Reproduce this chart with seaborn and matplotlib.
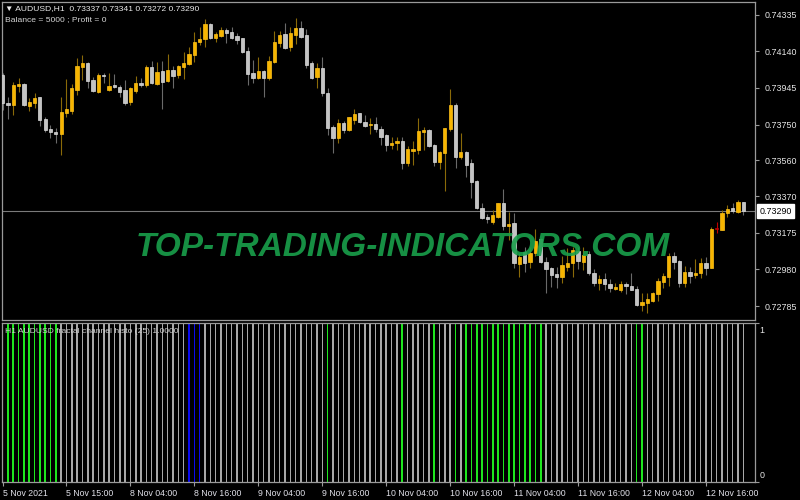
import numpy as np
import pandas as pd
import matplotlib
matplotlib.use("Agg")
import matplotlib.pyplot as plt
import matplotlib.transforms as mtransforms
import seaborn as sns

# AUDUSD H1, 140 bars
opens = [
    0.74014, 0.73867, 0.73854, 0.73955, 0.73965, 0.73849, 0.73867, 0.73895, 0.73780, 0.73727,
    0.73711, 0.73700, 0.73813, 0.73824, 0.73934, 0.74058, 0.74079, 0.73987, 0.73925, 0.74016,
    0.73934, 0.73959, 0.73952, 0.73934, 0.73869, 0.73930, 0.73973, 0.73959, 0.74058, 0.73966,
    0.74035, 0.73982, 0.74041, 0.74014, 0.74058, 0.74073, 0.74120, 0.74188, 0.74204, 0.74285,
    0.74209, 0.74223, 0.74253, 0.74241, 0.74221, 0.74209, 0.74143, 0.74026, 0.74000, 0.74035,
    0.73996, 0.74085, 0.74186, 0.74231, 0.74161, 0.74227, 0.74262, 0.74227, 0.74076, 0.74002,
    0.74050, 0.73920, 0.73736, 0.73680, 0.73760, 0.73721, 0.73775, 0.73810, 0.73766, 0.73746,
    0.73752, 0.73727, 0.73695, 0.73642, 0.73654, 0.73664, 0.73544, 0.73611, 0.73615, 0.73711,
    0.73721, 0.73642, 0.73553, 0.73601, 0.73725, 0.73854, 0.73579, 0.73606, 0.73544, 0.73452,
    0.73305, 0.73257, 0.73234, 0.73260, 0.73331, 0.73211, 0.73225, 0.73009, 0.73074, 0.73021,
    0.73065, 0.73140, 0.73021, 0.72986, 0.72955, 0.72941, 0.72994, 0.73014, 0.73080, 0.73021,
    0.73062, 0.72963, 0.72909, 0.72927, 0.72902, 0.72878, 0.72870, 0.72900, 0.72894, 0.72874,
    0.72790, 0.72803, 0.72813, 0.72849, 0.72914, 0.72941, 0.73053, 0.73026, 0.72909, 0.72968,
    0.72948, 0.72959, 0.73012, 0.72987, 0.73195, 0.73192, 0.73278, 0.73305, 0.73284, 0.73337,
]
highs = [
    0.74025, 0.73899, 0.73978, 0.73998, 0.73971, 0.73890, 0.73917, 0.73899, 0.73792, 0.73748,
    0.73730, 0.73899, 0.73991, 0.73966, 0.74103, 0.74120, 0.74085, 0.74005, 0.74026, 0.74026,
    0.74026, 0.74019, 0.73961, 0.73987, 0.73949, 0.74009, 0.73996, 0.74066, 0.74088, 0.74085,
    0.74090, 0.74126, 0.74062, 0.74067, 0.74138, 0.74165, 0.74241, 0.74271, 0.74310, 0.74292,
    0.74244, 0.74268, 0.74262, 0.74268, 0.74236, 0.74212, 0.74161, 0.74094, 0.74111, 0.74041,
    0.74115, 0.74250, 0.74250, 0.74292, 0.74268, 0.74316, 0.74301, 0.74257, 0.74090, 0.74076,
    0.74111, 0.73943, 0.73748, 0.73778, 0.73771, 0.73792, 0.73832, 0.73813, 0.73801, 0.73784,
    0.73789, 0.73743, 0.73700, 0.73686, 0.73683, 0.73686, 0.73638, 0.73664, 0.73784, 0.73739,
    0.73725, 0.73647, 0.73611, 0.73734, 0.73938, 0.73867, 0.73707, 0.73611, 0.73566, 0.73455,
    0.73335, 0.73273, 0.73296, 0.73335, 0.73406, 0.73287, 0.73281, 0.73065, 0.73101, 0.73101,
    0.73193, 0.73145, 0.73044, 0.72994, 0.72994, 0.73051, 0.73096, 0.73101, 0.73101, 0.73101,
    0.73078, 0.72980, 0.72950, 0.72961, 0.72927, 0.72907, 0.72918, 0.72914, 0.72959, 0.72891,
    0.72853, 0.72853, 0.72861, 0.72932, 0.72959, 0.73065, 0.73074, 0.73030, 0.72998, 0.72994,
    0.73034, 0.73039, 0.73047, 0.73207, 0.73232, 0.73298, 0.73320, 0.73333, 0.73347, 0.73341,
]
lows = [
    0.73828, 0.73778, 0.73801, 0.73925, 0.73849, 0.73822, 0.73837, 0.73743, 0.73712, 0.73677,
    0.73654, 0.73588, 0.73789, 0.73807, 0.73908, 0.73987, 0.73943, 0.73922, 0.73917, 0.73970,
    0.73930, 0.73943, 0.73899, 0.73854, 0.73854, 0.73920, 0.73949, 0.73952, 0.73966, 0.73961,
    0.73833, 0.73978, 0.73943, 0.73996, 0.73991, 0.74067, 0.74085, 0.74174, 0.74165, 0.74204,
    0.74191, 0.74218, 0.74183, 0.74204, 0.74179, 0.74129, 0.73961, 0.73973, 0.73991, 0.73899,
    0.73987, 0.74079, 0.74165, 0.74151, 0.74143, 0.74179, 0.74212, 0.74053, 0.73991, 0.73943,
    0.73904, 0.73695, 0.73597, 0.73654, 0.73704, 0.73718, 0.73753, 0.73757, 0.73736, 0.73700,
    0.73712, 0.73642, 0.73611, 0.73619, 0.73615, 0.73514, 0.73530, 0.73535, 0.73594, 0.73615,
    0.73629, 0.73530, 0.73512, 0.73397, 0.73718, 0.73518, 0.73566, 0.73473, 0.73361, 0.73300,
    0.73246, 0.73228, 0.73221, 0.73252, 0.73189, 0.73136, 0.72986, 0.72941, 0.72968, 0.72986,
    0.73051, 0.73012, 0.72856, 0.72885, 0.72879, 0.72909, 0.72971, 0.72937, 0.72980, 0.72977,
    0.72950, 0.72891, 0.72870, 0.72870, 0.72861, 0.72870, 0.72860, 0.72849, 0.72868, 0.72785,
    0.72760, 0.72748, 0.72808, 0.72812, 0.72881, 0.72891, 0.72980, 0.72888, 0.72888, 0.72909,
    0.72936, 0.72932, 0.72950, 0.72986, 0.73175, 0.73187, 0.73260, 0.73282, 0.73278, 0.73272,
]
closes = [
    0.73865, 0.73853, 0.73961, 0.73966, 0.73854, 0.73869, 0.73893, 0.73775, 0.73721, 0.73712,
    0.73700, 0.73819, 0.73832, 0.73943, 0.74063, 0.74079, 0.73982, 0.73929, 0.74014, 0.74007,
    0.73955, 0.73949, 0.73924, 0.73867, 0.73943, 0.73973, 0.73962, 0.74058, 0.73970, 0.74032,
    0.73978, 0.74041, 0.74009, 0.74063, 0.74079, 0.74126, 0.74191, 0.74206, 0.74285, 0.74209,
    0.74231, 0.74253, 0.74236, 0.74209, 0.74200, 0.74135, 0.74019, 0.74000, 0.74035, 0.74000,
    0.74088, 0.74191, 0.74227, 0.74159, 0.74236, 0.74262, 0.74218, 0.74067, 0.73996, 0.74050,
    0.73917, 0.73730, 0.73680, 0.73760, 0.73721, 0.73789, 0.73807, 0.73762, 0.73744, 0.73753,
    0.73725, 0.73686, 0.73642, 0.73654, 0.73664, 0.73544, 0.73619, 0.73620, 0.73716, 0.73721,
    0.73636, 0.73550, 0.73606, 0.73730, 0.73854, 0.73579, 0.73606, 0.73535, 0.73446, 0.73305,
    0.73252, 0.73246, 0.73269, 0.73331, 0.73211, 0.73221, 0.73012, 0.73047, 0.73012, 0.73069,
    0.73132, 0.73021, 0.72980, 0.72950, 0.72938, 0.73003, 0.73015, 0.73083, 0.73024, 0.73056,
    0.72959, 0.72909, 0.72929, 0.72901, 0.72879, 0.72889, 0.72902, 0.72894, 0.72873, 0.72792,
    0.72808, 0.72821, 0.72853, 0.72921, 0.72945, 0.73053, 0.73021, 0.72909, 0.72968, 0.72945,
    0.72963, 0.73012, 0.72987, 0.73197, 0.73195, 0.73281, 0.73303, 0.73288, 0.73338, 0.73290,
]

# histogram state per bar: G = green (up), S = silver (flat), B = blue (down)
histo_codes = (
    "GGGGGGGGGGGSSSSSSSSS"
    "SSSSSSSSSSSSSSSBBBSS"
    "SSSSSSSSSSSSSSSSSSSS"
    "SGSSSSSSSSSSSSSGSSSS"
    "SGSSSGSGGGGGGGGGGGGG"
    "GGSSSSSSSSSSSSSSSSSG"
    "GSSSSSSSSSSSSSSSSSSS"
)

price_ticks = [0.74335, 0.74140, 0.73945, 0.73750, 0.73560, 0.73370, 0.73175, 0.72980, 0.72785]
time_tick_bars = [0, 12, 24, 36, 48, 60, 72, 84, 96, 108, 120, 132]
time_labels = ["5 Nov 2021", "5 Nov 15:00", "8 Nov 04:00", "8 Nov 16:00", "9 Nov 04:00",
               "9 Nov 16:00", "10 Nov 04:00", "10 Nov 16:00", "11 Nov 04:00", "11 Nov 16:00",
               "12 Nov 04:00", "12 Nov 16:00"]
last_price = 0.73290

sns.set_theme(style="dark", rc={"figure.facecolor": "black", "axes.facecolor": "black",
                                "axes.edgecolor": "#9a9a9a", "savefig.facecolor": "black"})
plt.rcParams['font.family'] = ['Liberation Sans', 'DejaVu Sans']

df = pd.DataFrame({"o": opens, "h": highs, "l": lows, "c": closes})
df["bar"] = np.arange(len(df))
df["state"] = list(histo_codes)

bull = df["c"] > df["o"]
doji = df["c"] == df["o"]
body_col = np.where(doji, "#c00000", np.where(bull, "#f7b500", "#c4c4c4"))
edge_col = np.where(doji, "#c00000", np.where(bull, "#ffc21a", "#dedede"))
wick_col = np.where(doji, "#c00000", np.where(bull, "#8a6a08", "#6a6a6a"))

fig = plt.figure(figsize=(8, 5), dpi=100)
ax1 = fig.add_axes([0.0025, 0.36, 0.94125, 0.636])
ax2 = fig.add_axes([0.0025, 0.036, 0.94125, 0.318])

# candles
ax1.axhline(last_price, color="#7a7a7a", lw=0.8, zorder=1)
ax1.vlines(df["bar"], df["l"], df["h"], colors=wick_col, lw=0.8, zorder=2)
body_h = np.maximum((df["c"] - df["o"]).abs(), 0.00003)
body_b = np.minimum(df["c"], df["o"])
ax1.bar(df["bar"], body_h, bottom=body_b, width=0.62, color=body_col,
        edgecolor=edge_col, linewidth=0.5, zorder=3)

ax1.set_xlim(-0.1, 141.2)
ax1.set_ylim(0.72711, 0.74402)
ax1.yaxis.tick_right()
ax1.set_yticks(price_ticks)
ax1.set_yticklabels([f"{p:.5f}" for p in price_ticks])
ax1.tick_params(axis="y", colors="#9a9a9a", labelcolor="#e6e6e6", labelsize=6.4,
                length=3, width=0.8, pad=4, right=True, left=False)
ax1.set_xticks([])
ax1.grid(False)

trans = mtransforms.blended_transform_factory(ax1.transAxes, ax1.transData)
ax1.text(1.0055, last_price, f"{last_price:.5f}", transform=trans, fontsize=6.4,
         color="black", va="center", ha="left",
         bbox=dict(boxstyle="square,pad=0.25", fc="white", ec="white"))

# fractal channel histogram
palette = {"G": "#1ee61e", "S": "#a8a8a8", "B": "#0a0aee"}
sns.barplot(data=df, x="bar", y=np.ones(len(df)), hue="state", palette=palette,
            native_scale=True, dodge=False, width=0.28, saturation=1, linewidth=0,
            errorbar=None, legend=False, ax=ax2)
ax2.set_xlim(-0.1, 141.2)
ax2.set_ylim(0, 1)
ax2.set_xticks(time_tick_bars)
ax2.set_xticklabels(time_labels, ha="left")
ax2.tick_params(axis="x", colors="#9a9a9a", labelcolor="#e0e0e8", labelsize=6.3,
                length=3, width=0.8, pad=2, bottom=True)
ax2.yaxis.tick_right()
ax2.set_yticks([0, 1])
ax2.set_yticklabels([])
ax2.tick_params(axis="y", colors="#9a9a9a", length=3, width=0.8, right=True, left=False)
ax2.set_xlabel("")
ax2.set_ylabel("")
ax2.grid(False)
ax2.text(1.006, 0.955, "1", transform=ax2.transAxes, fontsize=6.4, color="#e6e6e6", va="center")
ax2.text(1.006, 0.04, "0", transform=ax2.transAxes, fontsize=6.4, color="#e6e6e6", va="center")

for ax in (ax1, ax2):
    for s in ax.spines.values():
        s.set_color("#9a9a9a")
        s.set_linewidth(0.9)

fig.text(5 / 800, 1 - 8.5 / 500, "\u25bc AUDUSD,H1  0.73337 0.73341 0.73272 0.73290",
         fontsize=6.1, color="#ececec", va="center", ha="left")
fig.text(5 / 800, 1 - 19.5 / 500, "Balance = 5000 ; Profit = 0",
         fontsize=6.1, color="#d8d8d8", va="center", ha="left")
fig.text(5 / 800, 1 - 331.5 / 500, "H1 AUDUSD fractal channel histo (25) 1.0000",
         fontsize=6.1, color="#d0d0d0", va="center", ha="left")

fig.text(402.5 / 800, 1 - 247.5 / 500, "TOP-TRADING-INDICATORS.COM", fontsize=24,
         fontweight="bold", fontstyle="italic", color="#19a04b", alpha=0.9,
         ha="center", va="center", zorder=10)

fig.savefig("out.png", dpi=100, facecolor="black")
